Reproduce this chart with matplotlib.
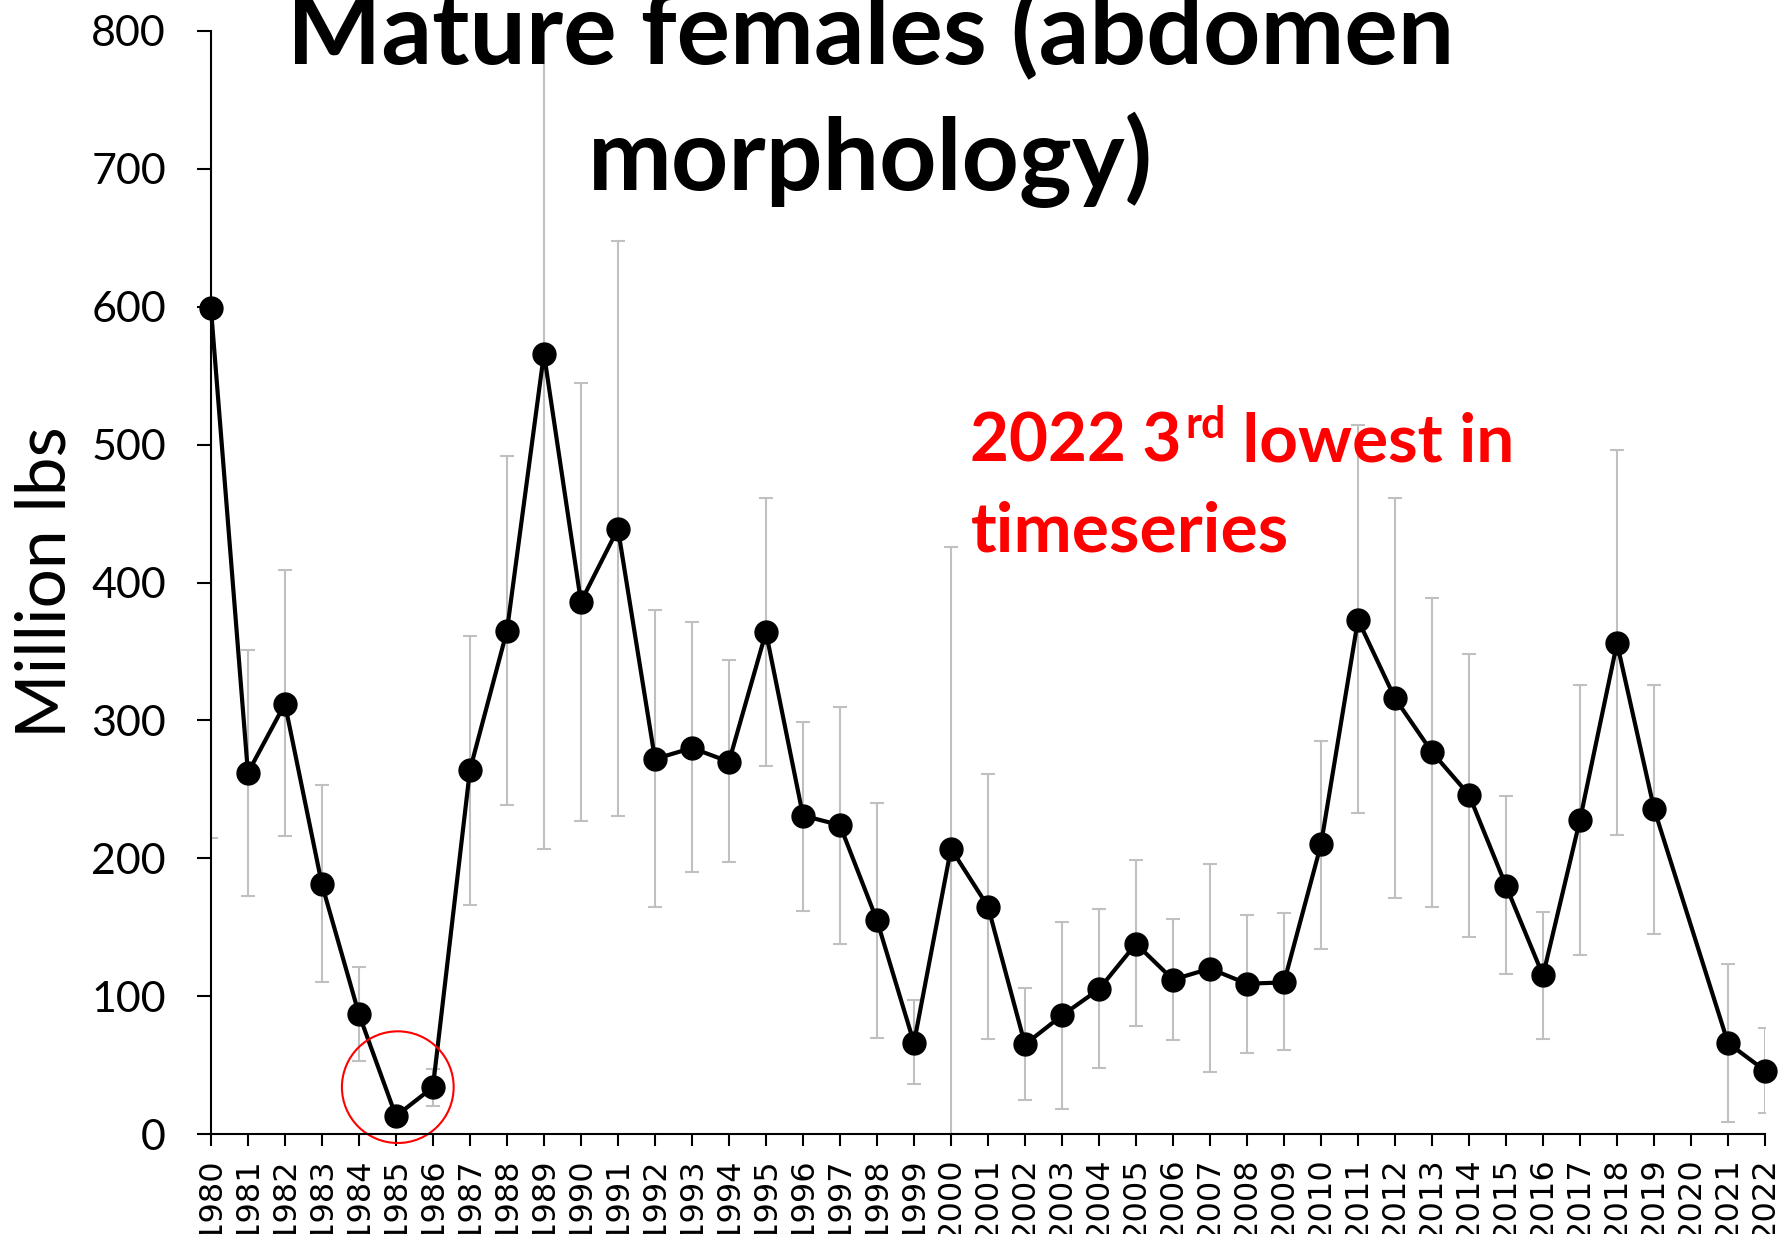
import numpy as np
import matplotlib
matplotlib.use('Agg')
import matplotlib.pyplot as plt
from matplotlib.patches import Ellipse

# survey years (no survey in 2020)
years = list(range(1980, 2023))

# mature female biomass, million lbs
biomass = [599, 262, 312, 181, 87, 13, 34, 264, 365, 566,
           386, 439, 272, 280, 270, 364, 231, 224, 155, 66,
           207, 165, 65, 86, 105, 138, 112, 120, 109, 110,
           210, 373, 316, 277, 246, 180, 115, 228, 356, 236,
           None, 66, 46]

# confidence limits (1980 and 1989 upper run off the top of the chart)
upper = [900, 351, 409, 253, 121, 13, 47, 361, 492, 900,
         545, 648, 380, 371, 344, 461, 299, 310, 240, 97,
         426, 261, 106, 154, 163, 199, 156, 196, 159, 160,
         285, 514, 461, 389, 348, 245, 161, 326, 496, 326,
         None, 123, 77]
lower = [215, 173, 216, 110, 53, 13, 20, 166, 239, 207,
         227, 231, 165, 190, 197, 267, 162, 138, 70, 36,
         0, 69, 25, 18, 48, 78, 68, 45, 59, 61,
         134, 233, 171, 165, 143, 116, 69, 130, 217, 145,
         None, 9, 15]

plt.rcParams['font.family'] = 'Lato'

fig = plt.figure(figsize=(17.89, 12.34), dpi=100)
ax = fig.add_axes([0.1179, 0.0810, 0.8687, 0.8939])

# keep only years with data, the line joins 2019 to 2021 directly
idx = [i for i, v in enumerate(biomass) if v is not None]
x = np.array(idx)
y = np.array([biomass[i] for i in idx], dtype=float)
hi = np.array([upper[i] for i in idx], dtype=float)
lo = np.array([lower[i] for i in idx], dtype=float)

ax.errorbar(x, y, yerr=[y - lo, hi - y], fmt='none', ecolor='#c0c0c0',
            elinewidth=1.5, capsize=4.8, capthick=1.5, zorder=2)
ax.plot(x, y, '-o', color='black', lw=3, ms=16.5, zorder=3, clip_on=False)

# circle round the 1985 low
ax.add_patch(Ellipse((5.05, 34), 3.02, 81, fill=False, edgecolor='red',
                     lw=1.5, clip_on=False, zorder=4))

ax.set_xlim(0, len(years) - 1)
ax.set_ylim(0, 800)
ax.set_yticks(range(0, 801, 100))
ax.set_xticks(range(len(years)))
ax.set_xticklabels([str(yr) for yr in years], rotation=90,
                   fontfamily='DejaVu Sans', fontsize=23)
ax.tick_params(axis='x', length=8.6, width=1.5, pad=8)
ax.tick_params(axis='y', length=10.4, width=1.5, pad=22, labelsize=31)
for s in ['top', 'right']:
    ax.spines[s].set_visible(False)
for s in ['left', 'bottom']:
    ax.spines[s].set_linewidth(1.5)
    ax.spines[s].set_zorder(5)

ax.set_ylabel('Million lbs', fontsize=50)
ax.yaxis.set_label_coords(-0.086, 0.5)

# title in two lines
fig.text(0.4866, 1 - 64 / 1234, 'Mature females (abdomen', ha='center',
         va='baseline', fontsize=72, fontweight='bold')
fig.text(0.4866, 1 - 190 / 1234, 'morphology)', ha='center',
         va='baseline', fontsize=72, fontweight='bold')

# red note, with a superscript "rd"
r = fig.canvas.get_renderer()
x0 = 970.5 / 1789
b1 = 1 - 461 / 1234
b2 = 1 - 551.7 / 1234
t1 = fig.text(x0, b1, '2022 3', color='red', fontsize=48.5,
              fontweight='bold', va='baseline')
e1 = t1.get_window_extent(r)
t2 = fig.text(e1.x1 / fig.bbox.width + 4 / 1789, b1 + 23 / 1234, 'rd',
              color='red', fontsize=31, fontweight='bold', va='baseline')
e2 = t2.get_window_extent(r)
fig.text(e2.x1 / fig.bbox.width, b1, ' lowest in', color='red',
         fontsize=48.5, fontweight='bold', va='baseline')
fig.text(x0, b2, 'timeseries', color='red', fontsize=50,
         fontweight='bold', va='baseline')

fig.savefig('out.png', dpi=100)
